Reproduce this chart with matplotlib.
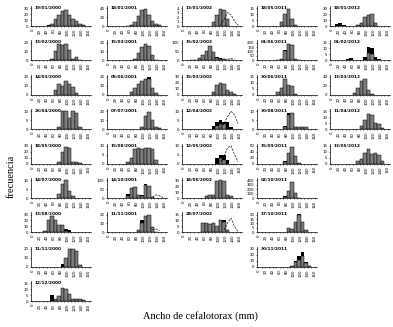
import numpy as np
import matplotlib
matplotlib.use("Agg")
import matplotlib.pyplot as plt

# paneles por columna (de arriba hacia abajo)
n_por_columna = [9, 7, 7, 8, 5]

fechas = [
    "19/01/2000", "13/02/2000", "14/03/2000", "26/04/2000", "18/05/2000",
    "14/07/2000", "13/08/2000", "11/11/2000", "12/12/2000",
    "18/01/2001", "15/03/2001", "05/06/2001", "07/07/2001", "15/08/2001",
    "14/10/2001", "11/11/2001",
    "13/01/2002", "15/02/2002", "15/03/2002", "12/04/2002", "12/05/2002",
    "18/06/2002", "28/07/2002",
    "18/05/2011", "01/06/2011", "30/06/2011", "30/08/2011", "15/09/2011",
    "02/10/2011", "17/10/2011", "30/11/2011",
    "18/01/2012", "01/02/2012", "13/03/2012", "11/04/2012", "13/05/2012",
]

# escala del eje y: (valor maximo de la marca, paso)
y_tope = [30, 20, 20, 10, 30, 10, 30, 20, 15,
          40, 20, 20, 20, 10, 100, 20,
          4, 100, 30, 10, 10, 30, 15,
          15, 200, 15, 10, 60, 400, 20, 30,
          30, 15, 40, 15, 15]
y_paso = [10, 10, 10, 5, 10, 5, 10, 10, 5,
          20, 10, 10, 10, 5, 50, 10,
          1, 50, 10, 5, 5, 10, 5,
          5, 50, 5, 5, 20, 100, 5, 10,
          10, 5, 20, 5, 5]

# frecuencias por clase de 10 mm (indice de clase: valor)
gris = [
    {5: 3, 6: 12, 7: 18, 8: 26, 9: 27, 10: 18, 11: 12, 12: 8, 13: 4, 14: 1},
    {5: 2, 6: 10, 7: 18, 8: 17, 9: 18, 10: 12, 11: 2, 12: 4, 13: 1},
    {6: 5, 7: 12, 8: 10, 9: 15, 10: 12, 11: 9, 12: 2},
    {7: 1, 8: 10, 9: 10, 10: 6, 11: 10, 12: 9, 13: 1},
    {7: 3, 8: 20, 9: 28, 10: 27, 11: 3, 12: 2, 13: 1},
    {7: 2, 8: 8, 9: 10, 10: 4, 11: 1},
    {3: 3, 4: 20, 5: 28, 6: 20, 7: 13, 8: 12, 9: 3, 10: 1},
    {9: 10, 10: 20, 11: 20, 12: 18, 13: 2},
    {6: 2, 7: 4, 8: 11, 9: 10, 10: 6, 11: 2, 12: 2, 13: 2, 14: 1},
    {5: 1, 6: 3, 7: 10, 8: 22, 9: 35, 10: 37, 11: 25, 12: 12, 13: 5, 14: 2},
    {7: 2, 8: 8, 9: 15, 10: 18, 11: 16, 12: 6, 13: 1},
    {6: 3, 7: 8, 8: 12, 9: 15, 10: 18, 11: 18, 12: 8, 13: 2},
    {9: 3, 10: 15, 11: 19, 12: 10, 13: 3, 14: 1},
    {5: 1, 6: 3, 7: 8, 8: 9, 9: 8, 10: 9, 11: 9, 12: 8, 13: 2},
    {5: 10, 6: 55, 7: 60, 8: 15, 9: 10, 10: 75, 11: 70, 12: 5},
    {8: 3, 9: 10, 10: 18, 11: 20, 12: 6, 13: 1},
    {8: 1, 9: 2.5, 10: 3.7, 11: 3.6, 12: 1.5},
    {2: 2, 3: 5, 4: 15, 5: 30, 6: 55, 7: 80, 8: 45, 9: 15, 10: 10, 11: 8, 12: 5, 13: 3},
    {8: 5, 9: 16, 10: 20, 11: 18, 12: 8, 13: 4, 14: 2},
    {9: 2, 10: 3, 11: 3},
    {10: 3, 11: 2},
    {6: 4, 7: 5, 8: 5, 9: 28, 10: 30, 11: 29, 12: 5, 13: 4},
    {5: 8, 6: 8, 7: 7, 8: 8, 9: 5, 10: 10, 11: 9, 12: 2},
    {6: 3, 7: 10, 8: 14, 9: 6, 10: 1},
    {5: 2, 6: 15, 7: 110, 8: 180, 9: 170, 10: 20, 11: 3},
    {5: 2, 6: 6, 7: 13, 8: 8, 9: 7, 10: 1},
    {7: 1, 8: 8, 9: 9, 10: 1, 11: 1, 12: 1, 13: 1},
    {7: 5, 8: 35, 9: 55, 10: 25, 11: 3},
    {7: 20, 8: 150, 9: 350, 10: 120, 11: 10},
    {8: 5, 9: 4, 10: 12, 11: 20, 12: 12, 13: 3},
    {9: 2, 10: 8, 11: 12, 12: 18, 13: 6, 14: 1},
    {7: 2, 8: 5, 9: 15, 10: 18, 11: 20, 12: 5},
    {10: 6, 11: 5},
    {6: 3, 7: 15, 8: 30, 9: 35, 10: 10, 11: 2},
    {8: 3, 9: 8, 10: 13, 11: 12, 12: 5, 13: 4, 14: 1},
    {7: 2, 8: 4, 9: 9, 10: 12, 11: 8, 12: 9, 13: 7, 14: 2},
]

negro = [
    {4: 1, 5: 2}, {5: 2}, {6: 3, 10: 2}, {7: 1}, {7: 3}, {7: 1},
    {2: 1, 3: 3, 9: 5, 10: 4}, {8: 3, 9: 10}, {5: 5},
    {3: 1, 6: 1, 13: 2}, {}, {11: 20, 12: 4}, {9: 2}, {}, {5: 20, 9: 15, 10: 80},
    {9: 14, 10: 12},
    {9: 2, 10: 3.8, 11: 2}, {4: 8, 5: 12, 8: 48, 9: 18, 10: 12, 11: 8, 12: 3},
    {8: 2, 13: 2}, {8: 2, 9: 4, 10: 5, 11: 4, 12: 4, 13: 1}, {9: 3, 10: 5, 11: 5, 12: 2},
    {6: 3}, {9: 4, 10: 10, 11: 10, 12: 2},
    {6: 2, 7: 3}, {6: 10, 7: 115}, {6: 3}, {7: 2, 8: 9}, {7: 8}, {7: 40},
    {11: 21}, {10: 10, 11: 18, 12: 25, 13: 8},
    {1: 3, 2: 5, 3: 1}, {4: 1, 5: 2, 9: 3, 10: 11, 11: 10, 12: 3, 13: 1},
    {7: 5}, {9: 6, 13: 3}, {9: 5, 10: 12},
]

# curva de la cohorte estimada (solo algunos paneles)
curva = {
    14: {12: 5, 13: 18, 14: 12, 15: 2},
    15: {12: 3, 13: 4, 14: 2},
    16: {10: 0.2, 11: 1.5, 12: 3.0, 13: 2.5, 14: 1.0, 15: 0.2},
    17: {12: 6, 13: 10, 14: 6},
    19: {10: 0.5, 11: 3, 12: 7, 13: 10, 14: 8, 15: 3},
    20: {10: 1, 11: 4, 12: 9, 13: 10, 14: 5, 15: 1},
    22: {11: 2, 12: 8, 13: 12, 14: 5, 15: 0.5},
}

x_marcas = [0, 20, 40, 60, 80, 100, 120, 140, 160]
centros = np.arange(16) * 10 + 5

W, H = 393, 327
fig = plt.figure(figsize=(W / 100, H / 100), dpi=100)

izq = [31, 107, 182, 257, 330]
ancho, alto = 60, 20


def a_lista(d):
    v = np.zeros(16)
    for k, val in d.items():
        v[k] = val
    return v


i = 0
for c, n in enumerate(n_por_columna):
    for f in range(n):
        base = 26 + 34.4 * f
        ax = fig.add_axes([izq[c] / W, 1 - base / H, ancho / W, alto / H])
        g = a_lista(gris[i])
        b = a_lista(negro[i])
        if i in curva:
            cv = a_lista(curva[i])
            m = cv > 0
            ax.fill_between(centros[m], cv[m], color='white', zorder=1)
        mb = b > 0
        ax.bar(centros[mb], b[mb], width=10, color='black', lw=0, zorder=2)
        mg = g > 0
        ax.bar(centros[mg], g[mg], width=10, color='#7d7d7d',
               edgecolor='black', lw=0.35, zorder=3)
        if i in curva:
            ax.plot(centros[m], cv[m], color='black', ls='--', lw=0.45, zorder=4)

        ax.set_xlim(-4, 166)
        ax.set_ylim(0, y_tope[i] * 1.12)
        ax.set_yticks(np.arange(0, y_tope[i] + 0.01, y_paso[i]))
        ax.set_yticklabels([f'{v:g}' for v in ax.get_yticks()])
        ax.set_xticks(x_marcas)
        ax.set_xticks(np.arange(0, 161, 10), minor=True)
        ax.set_xticklabels([str(v) for v in x_marcas], rotation=90)
        ax.tick_params(labelsize=2.8, length=1, width=0.4, pad=0.8)
        ax.tick_params(which='minor', length=0.8, width=0.4)
        for s in ['top', 'right']:
            ax.spines[s].set_visible(False)
        for s in ['left', 'bottom']:
            ax.spines[s].set_linewidth(0.5)
        ax.text(0.06, 1.0, fechas[i], transform=ax.transAxes, fontsize=3.1,
                va='top', fontweight='bold')
        i += 1

fig.text(0.51, 0.033, 'Ancho de cefalotorax (mm)', ha='center', va='center',
         family='Liberation Serif', fontsize=7.5)
fig.text(0.028, 0.46, 'frecuencia', ha='center', va='center', rotation=90,
         family='Liberation Serif', fontsize=7.5)

fig.savefig('out.png', dpi=100)
